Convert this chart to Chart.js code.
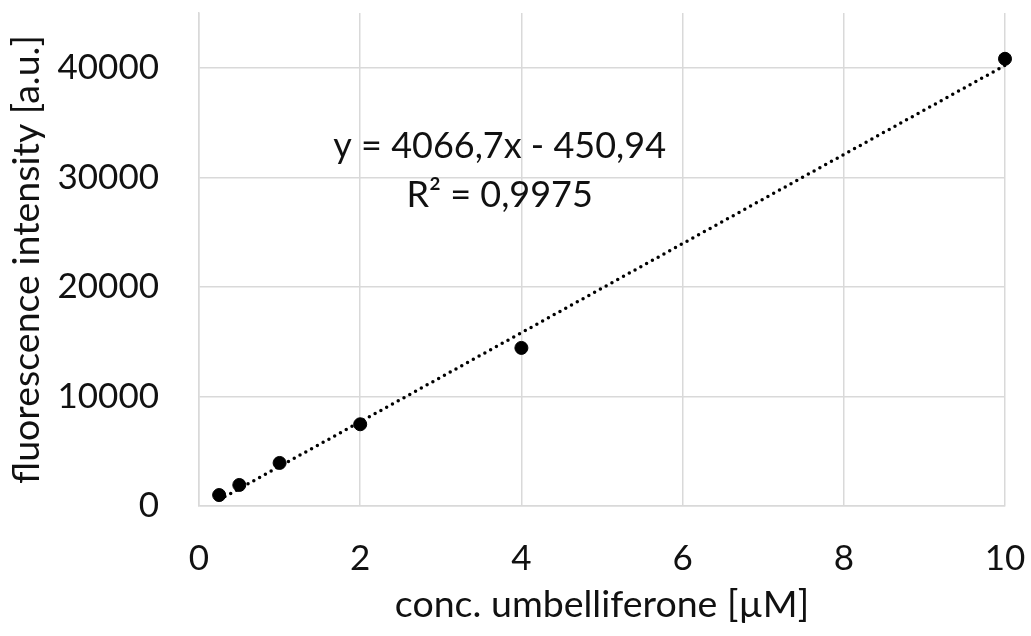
<!DOCTYPE html>
<html>
<head>
<meta charset="utf-8">
<script src="https://cdn.jsdelivr.net/npm/chart.js@4"></script>
<style>
  html, body { margin: 0; padding: 0; background: #fff; }
  #wrap { width: 1031px; height: 636px; }
</style>
</head>
<body>
<div id="wrap"><canvas id="chart"></canvas></div>
<script>
// measured points
const concentrations = [0.25, 0.5, 1, 2, 4, 10];
const intensities = [1000, 1920, 3930, 7460, 14430, 40820];

// trendline as printed on the chart
const slope = 4066.7;
const intercept = -450.94;
const equationText = 'y = 4066,7x - 450,94';
const r2Text = 'R² = 0,9975';

const xTicks = [0, 2, 4, 6, 8, 10];
const yTicks = [0, 10000, 20000, 30000, 40000];

const FONT = 'Lato';
const textColor = '#111';
const gridColor = '#d9d9d9';

const points = concentrations.map((x, i) => ({ x: x, y: intensities[i] }));
const xFirst = concentrations[0];
const xLast = concentrations[concentrations.length - 1];
const trend = [
    { x: xFirst, y: slope * xFirst + intercept },
    { x: xLast, y: slope * xLast + intercept }
];

// draws the equation text
const equationLabel = {
    id: 'equationLabel',
    afterDatasetsDraw(chart) {
        const ctx = chart.ctx;
        const xs = chart.scales.x;
        const ys = chart.scales.y;
        const cx = xs.getPixelForValue(3.73);
        ctx.save();
        ctx.fillStyle = textColor;
        ctx.font = '36px ' + FONT;
        ctx.textAlign = 'center';
        ctx.textBaseline = 'alphabetic';
        ctx.fillText(equationText, cx, ys.getPixelForValue(31780));
        ctx.fillText(r2Text, cx, ys.getPixelForValue(27300));
        ctx.restore();
    }
};

function noPadding(s) {
    s.paddingTop = 0;
    s.paddingBottom = 0;
    s.paddingLeft = 0;
    s.paddingRight = 0;
}

new Chart(document.getElementById('chart'), {
    type: 'scatter',
    data: {
        datasets: [
            {
                label: 'trend',
                data: trend,
                showLine: true,
                borderColor: '#000',
                borderWidth: 3.5,
                borderDash: [0, 6.6],
                borderCapStyle: 'round',
                pointRadius: 0,
                fill: false,
                clip: false
            },
            {
                label: 'data',
                data: points,
                backgroundColor: '#000',
                borderColor: '#000',
                pointRadius: 6.5,
                pointHoverRadius: 6.5,
                clip: false
            }
        ]
    },
    options: {
        responsive: true,
        maintainAspectRatio: false,
        animation: false,
        layout: { padding: { top: 13, right: 26, bottom: 0, left: 0 } },
        plugins: {
            legend: { display: false },
            tooltip: { enabled: false }
        },
        scales: {
            x: {
                type: 'linear',
                min: 0,
                max: 10,
                afterBuildTicks: (s) => { s.ticks = xTicks.map(v => ({ value: v })); },
                afterFit: (s) => { s.height = 130; noPadding(s); },
                grid: { color: gridColor, lineWidth: 1.5, drawTicks: false },
                border: { color: gridColor, width: 1.5 },
                ticks: {
                    padding: 32,
                    color: textColor,
                    font: { family: FONT, size: 35 },
                    callback: (v) => String(v)
                },
                title: {
                    display: true,
                    text: 'conc. umbelliferone [µM]',
                    color: textColor,
                    font: { family: FONT, size: 37.5 },
                    padding: { top: 0, bottom: 9 }
                }
            },
            y: {
                type: 'linear',
                min: 0,
                max: 45000,
                afterBuildTicks: (s) => { s.ticks = yTicks.map(v => ({ value: v })); },
                afterFit: (s) => { s.width = 199; noPadding(s); },
                grid: { color: gridColor, lineWidth: 1.5, drawTicks: false },
                border: { color: gridColor, width: 1.5 },
                ticks: {
                    padding: 40,
                    color: textColor,
                    font: { family: FONT, size: 35 },
                    callback: (v) => String(v)
                },
                title: {
                    display: true,
                    text: 'fluorescence intensity [a.u.]',
                    color: textColor,
                    font: { family: FONT, size: 37.5 },
                    padding: { top: 4, bottom: 0 }
                }
            }
        }
    },
    plugins: [equationLabel]
});
</script>
</body>
</html>
